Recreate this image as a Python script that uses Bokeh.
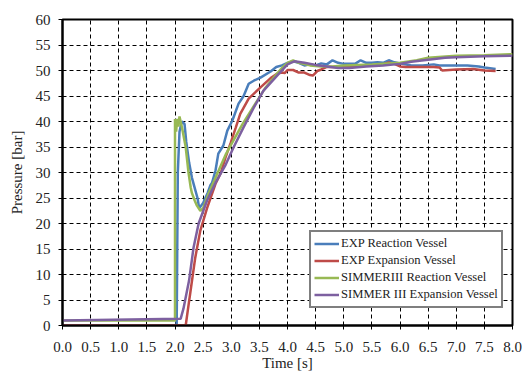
from bokeh.plotting import figure
from bokeh.models import Legend, LegendItem, FixedTicker, NumeralTickFormatter, Range1d
from bokeh.embed import file_html
from bokeh.resources import INLINE

# EXP Reaction Vessel
t_exp_rv = [0, 2.03, 2.05, 2.08, 2.12, 2.17, 2.2, 2.25, 2.3, 2.35, 2.4, 2.43, 2.5, 2.58, 2.63, 2.66,
            2.72, 2.77, 2.86, 2.93, 3.02, 3.13, 3.22, 3.31, 3.4, 3.52, 3.7, 3.8, 3.9, 4.0, 4.1, 4.2,
            4.3, 4.4, 4.5, 4.6, 4.7, 4.8, 4.9, 5.0, 5.1, 5.2, 5.3, 5.4, 5.5, 5.6, 5.7, 5.8, 5.9, 6.0,
            6.2, 6.4, 6.6, 6.7, 6.8, 7.0, 7.2, 7.4, 7.5, 7.7]
p_exp_rv = [0, 0, 30, 38, 40, 39.5, 36, 32, 29, 27, 25, 23, 24, 26, 27.5, 28,
            30.4, 33.7, 35.3, 38.2, 40.2, 43.5, 45, 47.4, 48, 48.6, 49.8, 50.7, 51, 51.5, 51.8, 51.5,
            51, 51.2, 51, 51.4, 51.2, 52, 51.5, 51.3, 51.3, 51.3, 52, 51.5, 51.5, 51.6, 51.5, 52, 51.6, 51.4,
            51, 51, 51.2, 51, 51, 51, 51, 50.8, 50.6, 50.3]

# EXP Expansion Vessel
t_exp_ev = [0, 2.0, 2.19, 2.26, 2.36, 2.45, 2.57, 2.72, 2.81, 2.9, 2.99, 3.08, 3.16, 3.31, 3.52, 3.7,
            3.82, 3.9, 3.95, 4.0, 4.1, 4.2, 4.3, 4.4, 4.45, 4.53, 4.6, 4.7, 4.9, 5.0, 5.2, 5.3, 5.5,
            5.7, 5.8, 5.9, 6.0, 6.1, 6.4, 6.6, 6.7, 6.75, 7.0, 7.3, 7.5, 7.7]
p_exp_ev = [0, 0, 0, 5.5, 13.3, 18.6, 23, 27.8, 29.8, 33, 35.8, 38.8, 41.5, 44.5, 46.7, 48.5,
            49.4, 49.6, 49.5, 50.1, 50.1, 49.6, 49.6, 49.1, 49, 49.9, 50.2, 50.7, 50.7, 50.8, 50.8, 51, 51,
            51.2, 51.6, 51.3, 50.8, 50.7, 50.7, 50.7, 50.6, 50, 50.2, 50.3, 50, 49.9]

# SIMMERIII Reaction Vessel
t_sim_rv = [0, 2.0, 2.0, 2.02, 2.04, 2.06, 2.08, 2.1, 2.13, 2.19, 2.24, 2.28, 2.3, 2.35, 2.39, 2.45,
            2.5, 2.55, 2.6, 2.7, 2.8, 2.9, 3.0, 3.2, 3.4, 3.6, 3.8, 3.9, 4.0, 4.1, 4.2, 4.4, 4.6, 4.8,
            5.0, 5.5, 6.0, 6.3, 6.5, 7.0, 7.5, 8.0]
p_sim_rv = [1, 1, 40.5, 38, 40.5, 39, 41, 40, 38.5, 35, 30, 27, 26, 24.5, 23.5, 22.5,
            23, 24.5, 26, 28.5, 31, 33.5, 35.5, 39.5, 43, 46.5, 49.2, 50.5, 51.5, 52, 51.5, 51, 50.8, 50.8,
            51, 51.2, 51.5, 52, 52.5, 52.9, 53, 53.2]

# SIMMER III Expansion Vessel
t_sim_ev = [0, 2.1, 2.15, 2.25, 2.33, 2.42, 2.57, 2.72, 2.9, 3.04, 3.22, 3.4, 3.57, 3.84, 4.0, 4.12,
            4.3, 4.5, 4.7, 4.9, 5.1, 5.4, 5.7, 6.0, 6.2, 6.5, 6.8, 7.0, 7.5, 8.0]
p_sim_ev = [1, 1.3, 3.3, 8.8, 15.3, 20, 24.5, 28, 31.5, 34.9, 38.9, 42.7, 46, 49.3, 51.2, 51.8,
            51.5, 51.1, 50.8, 50.5, 50.5, 50.8, 51, 51.3, 51.7, 52.1, 52.5, 52.6, 52.8, 52.9]

x_ticks = [i * 0.5 for i in range(17)]
y_ticks = [i * 5 for i in range(13)]

FONT = "'Liberation Serif', 'Times New Roman', serif"

p = figure(width=522, height=374, output_backend="svg", toolbar_location=None,
           x_range=Range1d(0, 8), y_range=Range1d(0, 60),
           min_border_left=62, min_border_right=10, min_border_top=19, min_border_bottom=49)
p.background_fill_color = "white"
p.border_fill_color = "white"
p.outline_line_color = "black"
p.outline_line_width = 2

r1 = p.line(t_exp_rv, p_exp_rv, line_color="#4a7ebb", line_width=2.5)
r2 = p.line(t_exp_ev, p_exp_ev, line_color="#be4b48", line_width=2.5)
r3 = p.line(t_sim_rv, p_sim_rv, line_color="#98b954", line_width=2.5)
r4 = p.line(t_sim_ev, p_sim_ev, line_color="#7d60a0", line_width=2.5)

for ax in (p.xaxis[0], p.yaxis[0]):
    ax.axis_line_color = "black"
    ax.axis_line_width = 2
    ax.major_tick_line_color = "black"
    ax.major_tick_out = 4
    ax.major_tick_in = 0
    ax.minor_tick_line_color = None
    ax.major_label_text_font = FONT
    ax.major_label_text_font_size = "15px"
    ax.major_label_text_color = "#222222"
    ax.axis_label_text_font = FONT
    ax.axis_label_text_font_size = "15px"
    ax.axis_label_text_font_style = "normal"
    ax.axis_label_text_color = "#222222"

p.xaxis[0].ticker = FixedTicker(ticks=x_ticks)
p.xaxis[0].formatter = NumeralTickFormatter(format="0.0")
p.xaxis[0].axis_label = "Time [s]"
p.xaxis[0].major_label_standoff = 12
p.xaxis[0].axis_label_standoff = 0
p.yaxis[0].ticker = FixedTicker(ticks=y_ticks)
p.yaxis[0].axis_label = "Pressure [bar]"
p.yaxis[0].major_label_standoff = 8
p.yaxis[0].axis_label_standoff = 8

p.xgrid.ticker = FixedTicker(ticks=x_ticks)
p.ygrid.ticker = FixedTicker(ticks=y_ticks)
for g in (p.xgrid[0], p.ygrid[0]):
    g.grid_line_color = "black"
    g.grid_line_dash = "4 3"
    g.grid_line_width = 1

legend = Legend(items=[
    LegendItem(label="EXP Reaction Vessel", renderers=[r1]),
    LegendItem(label="EXP Expansion Vessel", renderers=[r2]),
    LegendItem(label="SIMMERIII Reaction Vessel", renderers=[r3]),
    LegendItem(label="SIMMER III Expansion Vessel", renderers=[r4]),
], location=(247, 17))
legend.label_text_font = FONT
legend.label_text_font_size = "12.6px"
legend.label_text_color = "#222222"
legend.label_height = 17
legend.glyph_height = 17
legend.glyph_width = 25
legend.spacing = 0
legend.padding = 3
legend.margin = 0
legend.label_standoff = 2
legend.border_line_color = "black"
legend.border_line_width = 2
legend.background_fill_alpha = 1
p.add_layout(legend, "center")

open("out.html", "w").write(file_html(p, INLINE))
